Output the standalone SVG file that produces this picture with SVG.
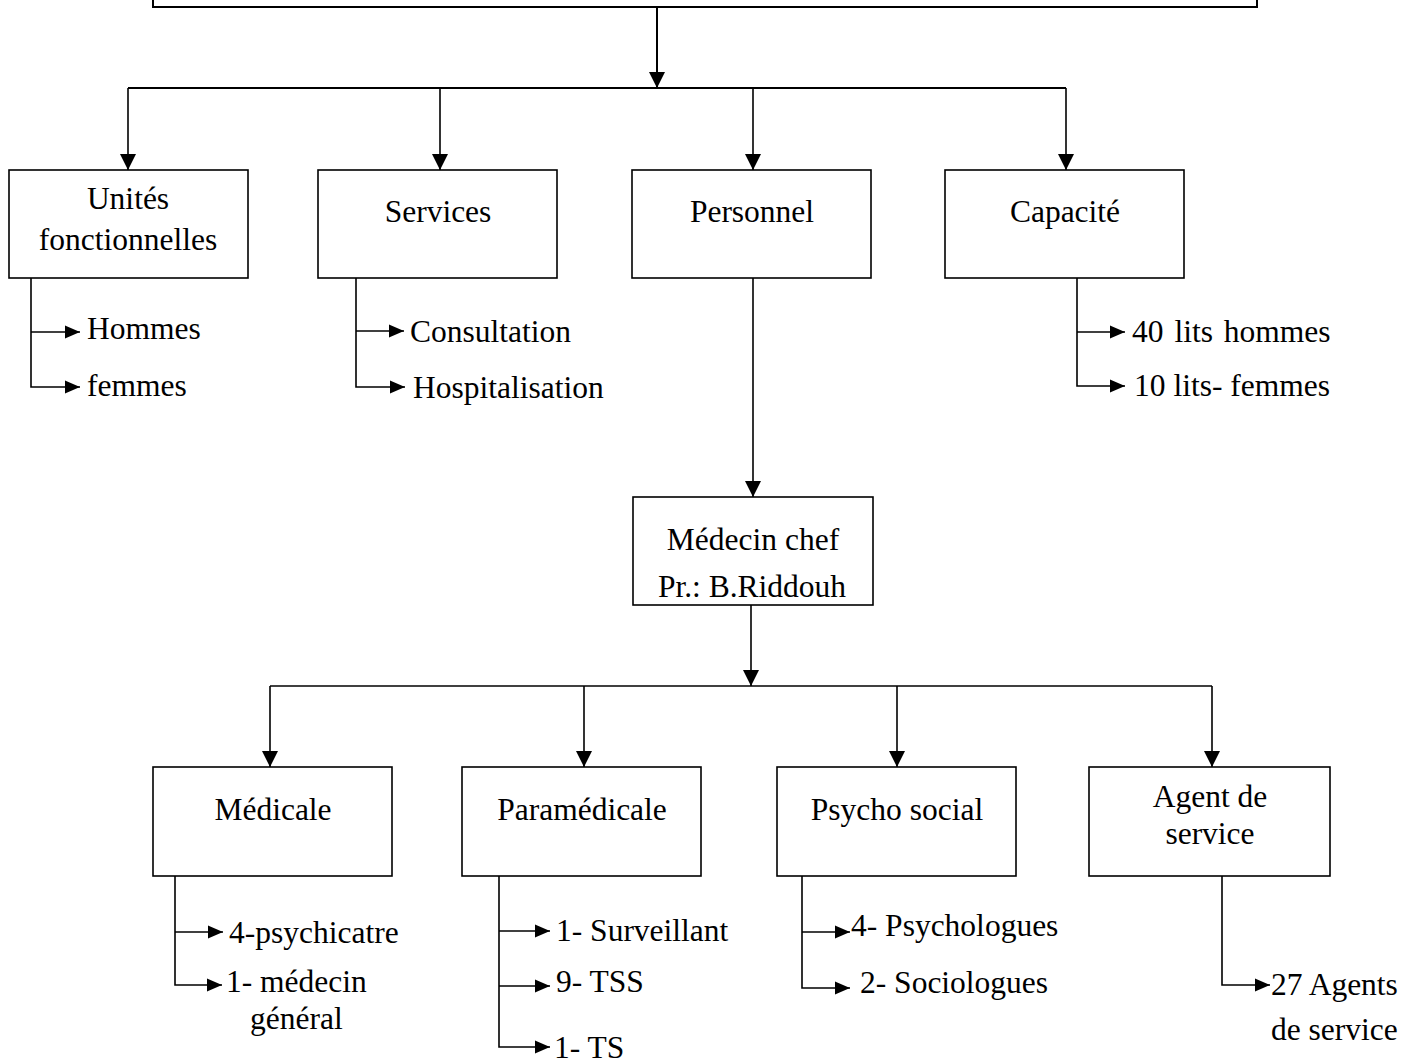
<svg xmlns="http://www.w3.org/2000/svg" width="1417" height="1064" viewBox="0 0 1417 1064">
<style>
  .box { fill: #fff; stroke: #000; stroke-width: 1.6; }
  .ln { fill: none; stroke: #000; stroke-width: 1.6; }
  .bar { fill: none; stroke: #000; stroke-width: 2; }
  text { font-family: "Liberation Serif", "Times New Roman", serif; font-size: 31.5px; fill: #000; }
  .c { text-anchor: middle; }
</style>
<defs>
  <marker id="big" markerUnits="userSpaceOnUse" markerWidth="16" markerHeight="16" refX="15" refY="7.5" orient="auto" viewBox="0 0 15 15">
    <path d="M0,0 L15,7.5 L0,15 Z" fill="#000"/>
  </marker>
  <marker id="sm" markerUnits="userSpaceOnUse" markerWidth="15" markerHeight="14" refX="15" refY="6.5" orient="auto" viewBox="0 0 15 13">
    <path d="M0,0 L15,6.5 L0,13 Z" fill="#000"/>
  </marker>
</defs>
<rect width="1417" height="1064" fill="#fff"/>

<g id="top">
  <rect class="box" x="153" y="-20" width="1104" height="27" style="stroke-width:2"/>
</g>

<g id="unites">
  <rect class="box" x="9" y="170" width="239" height="108"/>
  <text class="c" x="128" y="209">Unités</text>
  <text class="c" x="128" y="250">fonctionnelles</text>
  <text x="87" y="339">Hommes</text>
  <text x="87" y="396">femmes</text>
</g>
<g id="services">
  <rect class="box" x="318" y="170" width="239" height="108"/>
  <text class="c" x="438" y="222">Services</text>
  <text x="410" y="342">Consultation</text>
  <text x="413" y="398">Hospitalisation</text>
</g>
<g id="personnel">
  <rect class="box" x="632" y="170" width="239" height="108"/>
  <text class="c" x="752" y="222">Personnel</text>
</g>
<g id="capacite">
  <rect class="box" x="945" y="170" width="239" height="108"/>
  <text class="c" x="1065" y="222">Capacité</text>
  <text x="1132" y="342" style="word-spacing:3px">40 lits hommes</text>
  <text x="1134" y="396">10 lits- femmes</text>
</g>
<g id="medecin">
  <rect class="box" x="633" y="497" width="240" height="108"/>
  <text class="c" x="753" y="550">Médecin chef</text>
  <text class="c" x="752" y="597">Pr.: B.Riddouh</text>
</g>
<g id="medicale">
  <rect class="box" x="153" y="767" width="239" height="109"/>
  <text class="c" x="273" y="820">Médicale</text>
  <text x="229" y="943">4-psychicatre</text>
  <text x="226" y="992">1- médecin</text>
  <text x="250" y="1029">général</text>
</g>
<g id="paramedicale">
  <rect class="box" x="462" y="767" width="239" height="109"/>
  <text class="c" x="582" y="820">Paramédicale</text>
  <text x="556" y="941">1- Surveillant</text>
  <text x="556" y="992">9- TSS</text>
  <text x="554" y="1058">1- TS</text>
</g>
<g id="psycho">
  <rect class="box" x="777" y="767" width="239" height="109"/>
  <text class="c" x="897" y="820">Psycho social</text>
  <text x="851" y="936">4- Psychologues</text>
  <text x="860" y="993">2- Sociologues</text>
</g>
<g id="agent">
  <rect class="box" x="1089" y="767" width="241" height="109"/>
  <text class="c" x="1210" y="807">Agent de</text>
  <text class="c" x="1210" y="844">service</text>
  <text x="1271" y="995">27 Agents</text>
  <text x="1271" y="1040">de service</text>
</g>

<g id="connectors">
  <path class="bar" d="M657,7 V88" marker-end="url(#big)"/>
  <path class="bar" d="M128,88 H1066"/>
  <path class="ln" d="M128,88 V170" marker-end="url(#big)"/>
  <path class="ln" d="M440,88 V170" marker-end="url(#big)"/>
  <path class="ln" d="M753,88 V170" marker-end="url(#big)"/>
  <path class="ln" d="M1066,88 V170" marker-end="url(#big)"/>

  <path class="ln" d="M31,278 V387 H80" marker-end="url(#sm)"/>
  <path class="ln" d="M31,332 H80" marker-end="url(#sm)"/>
  <path class="ln" d="M356,278 V387 H405" marker-end="url(#sm)"/>
  <path class="ln" d="M356,331 H404" marker-end="url(#sm)"/>
  <path class="ln" d="M1077,278 V386 H1125" marker-end="url(#sm)"/>
  <path class="ln" d="M1077,332 H1125" marker-end="url(#sm)"/>

  <path class="ln" d="M753,278 V497" marker-end="url(#big)"/>
  <path class="ln" d="M751,605 V686" marker-end="url(#big)"/>
  <path class="ln" d="M270,686 H1212"/>
  <path class="ln" d="M270,686 V767" marker-end="url(#big)"/>
  <path class="ln" d="M584,686 V767" marker-end="url(#big)"/>
  <path class="ln" d="M897,686 V767" marker-end="url(#big)"/>
  <path class="ln" d="M1212,686 V767" marker-end="url(#big)"/>

  <path class="ln" d="M175,876 V985 H222" marker-end="url(#sm)"/>
  <path class="ln" d="M175,932 H223" marker-end="url(#sm)"/>
  <path class="ln" d="M499,876 V1047 H550" marker-end="url(#sm)"/>
  <path class="ln" d="M499,931 H550" marker-end="url(#sm)"/>
  <path class="ln" d="M499,986 H550" marker-end="url(#sm)"/>
  <path class="ln" d="M802,876 V988 H850" marker-end="url(#sm)"/>
  <path class="ln" d="M802,932 H850" marker-end="url(#sm)"/>
  <path class="ln" d="M1222,876 V985 H1270" marker-end="url(#sm)"/>
</g>
</svg>
